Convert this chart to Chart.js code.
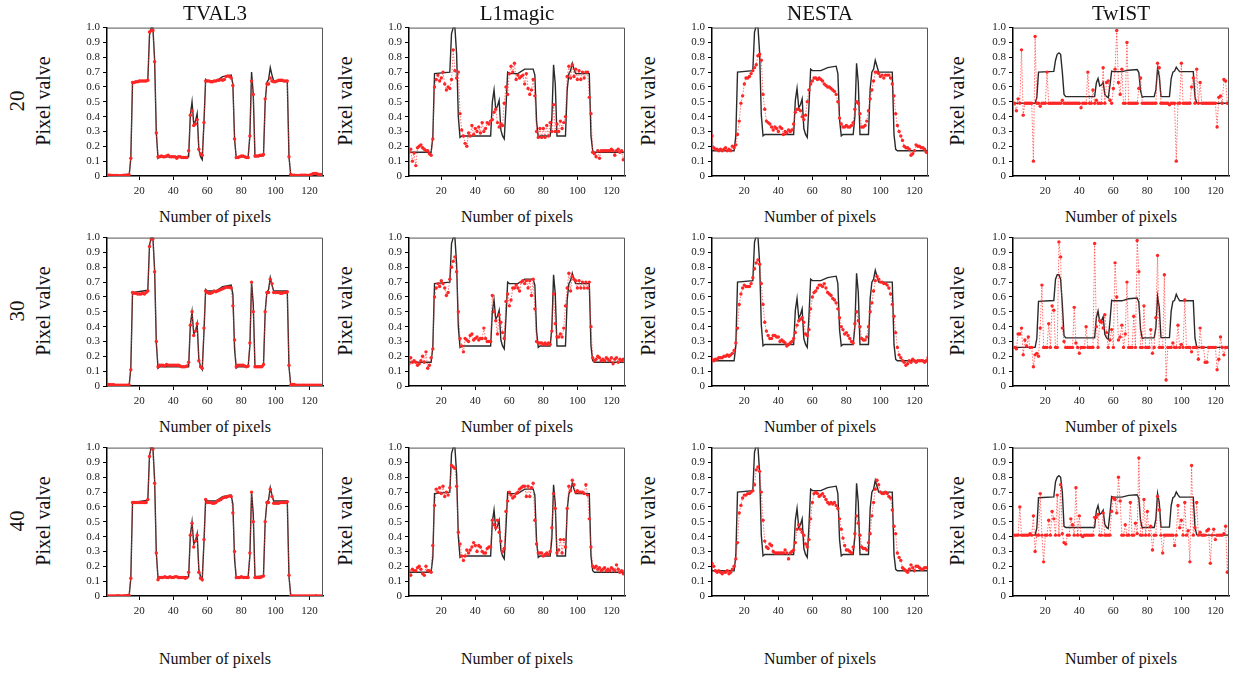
<!DOCTYPE html>
<html lang="en">
<head>
<meta charset="UTF-8" />
<title>Pixel value profiles</title>
<script src="https://cdn.jsdelivr.net/npm/chart.js"></script>
<style>
  body {
    margin: 0;
    background: #fff;
    width: 1233px;
    height: 674px;
    position: relative;
    overflow: hidden;
    font-family: 'Liberation Serif', 'DejaVu Serif', serif;
    color: #111;
  }
  canvas { position: absolute; }
  .lbl {
    position: absolute;
    white-space: nowrap;
    line-height: 1;
    transform: translate(-50%, -50%);
  }
  .rot { transform: translate(-50%, -50%) rotate(-90deg); }
  .title { font-size: 21px; }
  .ylab { font-size: 20px; }
  .xlab { font-size: 16px; }
  .row { font-size: 21px; }
</style>
</head>
<body>
<script>
  // panel titles, row labels and ticks
  const methods = ['TVAL3', 'L1magic', 'NESTA', 'TwIST'];
  const rowLabels = ['20', '30', '40'];
  const xTicks = [20, 40, 60, 80, 100, 120];
  const yTicks = [0, 0.1, 0.2, 0.3, 0.4, 0.5, 0.6, 0.7, 0.8, 0.9, 1];

  // original signal, [pixel, value] break points, one per panel scaling
  const truthTVAL3 = [[1,0],[14,0],[15,0.12],[16,0.63],[25,0.645],[26,0.95],[27,1.0],[28,1.0],[29,0.78],[30,0.29],[31,0.12],[32,0.13],[49,0.13],[50,0.41],[51,0.5],[52,0.35],[53,0.37],[54,0.42],[55,0.18],[56,0.13],[57,0.11],[58,0.36],[59,0.65],[60,0.64],[65,0.64],[69,0.67],[74,0.68],[75,0.62],[76,0.25],[77,0.12],[78,0.13],[84,0.13],[85,0.27],[86,0.7],[87,0.55],[88,0.13],[93,0.135],[94,0.5],[95,0.63],[96,0.65],[97,0.73],[98,0.68],[99,0.64],[107,0.64],[108,0.13],[109,0.01],[110,0],[128,0]];
  const truthL1magic = [[1,0.16],[14,0.16],[15,0.26],[16,0.69],[25,0.70],[26,0.96],[27,1.0],[28,1.0],[29,0.82],[30,0.40],[31,0.26],[32,0.27],[49,0.27],[50,0.50],[51,0.58],[52,0.45],[53,0.47],[54,0.51],[55,0.31],[56,0.27],[57,0.25],[58,0.46],[59,0.70],[60,0.69],[65,0.69],[69,0.72],[74,0.72],[75,0.68],[76,0.37],[77,0.26],[78,0.27],[84,0.27],[85,0.39],[86,0.75],[87,0.62],[88,0.27],[93,0.27],[94,0.58],[95,0.69],[96,0.71],[97,0.76],[98,0.72],[99,0.69],[107,0.69],[108,0.27],[109,0.17],[110,0.16],[128,0.16]];
  const truthNESTA = [[1,0.17],[14,0.17],[15,0.27],[16,0.70],[25,0.71],[26,0.97],[27,1.01],[28,1.01],[29,0.83],[30,0.41],[31,0.27],[32,0.28],[49,0.28],[50,0.51],[51,0.59],[52,0.46],[53,0.48],[54,0.52],[55,0.32],[56,0.28],[57,0.26],[58,0.47],[59,0.72],[60,0.71],[65,0.71],[69,0.73],[74,0.74],[75,0.69],[76,0.38],[77,0.27],[78,0.28],[84,0.28],[85,0.40],[86,0.76],[87,0.63],[88,0.28],[93,0.28],[94,0.59],[95,0.70],[96,0.72],[97,0.78],[98,0.74],[99,0.70],[107,0.70],[108,0.28],[109,0.18],[110,0.17],[128,0.17]];
  const truthTwIST20 = [[1,0.49],[14,0.49],[15,0.53],[16,0.70],[25,0.705],[26,0.78],[27,0.82],[28,0.83],[29,0.82],[30,0.70],[31,0.55],[32,0.535],[49,0.535],[50,0.627],[51,0.657],[52,0.607],[53,0.613],[54,0.63],[55,0.55],[56,0.535],[57,0.527],[58,0.61],[59,0.707],[60,0.703],[65,0.703],[69,0.713],[74,0.717],[75,0.697],[76,0.573],[77,0.53],[78,0.535],[84,0.535],[85,0.58],[86,0.723],[87,0.673],[88,0.535],[93,0.535],[94,0.657],[95,0.70],[96,0.707],[97,0.733],[98,0.717],[99,0.703],[107,0.703],[108,0.533],[109,0.493],[110,0.49],[128,0.49]];
  const truthTwIST30 = [[1,0.26],[14,0.26],[15,0.32],[16,0.57],[25,0.576],[26,0.72],[27,0.75],[28,0.75],[29,0.72],[30,0.55],[31,0.34],[32,0.324],[49,0.324],[50,0.46],[51,0.505],[52,0.43],[53,0.44],[54,0.466],[55,0.348],[56,0.324],[57,0.314],[58,0.436],[59,0.578],[60,0.574],[65,0.574],[69,0.588],[74,0.593],[75,0.564],[76,0.383],[77,0.32],[78,0.324],[84,0.324],[85,0.392],[86,0.603],[87,0.53],[88,0.326],[93,0.326],[94,0.505],[95,0.57],[96,0.578],[97,0.618],[98,0.593],[99,0.574],[107,0.574],[108,0.324],[109,0.265],[110,0.26],[128,0.26]];
  const truthTwIST40 = [[1,0.41],[14,0.41],[15,0.458],[16,0.662],[25,0.668],[26,0.77],[27,0.80],[28,0.81],[29,0.80],[30,0.70],[31,0.47],[32,0.462],[49,0.462],[50,0.574],[51,0.61],[52,0.55],[53,0.558],[54,0.578],[55,0.482],[56,0.462],[57,0.454],[58,0.554],[59,0.67],[60,0.666],[65,0.666],[69,0.678],[74,0.682],[75,0.658],[76,0.51],[77,0.458],[78,0.462],[84,0.462],[85,0.518],[86,0.69],[87,0.63],[88,0.464],[93,0.464],[94,0.61],[95,0.662],[96,0.67],[97,0.702],[98,0.682],[99,0.666],[107,0.666],[108,0.462],[109,0.414],[110,0.41],[128,0.41]];

  // reconstructions, one value per pixel 1..128
  const tval3_20 = [
    0.005,0.005,0.005,0.004,0.004,0.003,0.003,0.002,0.002,0.004,0.006,0.006,0.007,0.008,0.12,0.63,
    0.63,0.635,0.635,0.64,0.64,0.64,0.64,0.64,0.645,0.97,0.98,0.98,0.77,0.29,0.13,0.13,
    0.135,0.13,0.13,0.135,0.14,0.13,0.13,0.13,0.13,0.12,0.13,0.13,0.125,0.125,0.125,0.125,
    0.17,0.41,0.44,0.34,0.35,0.38,0.18,0.15,0.14,0.36,0.64,0.64,0.64,0.635,0.635,0.64,
    0.64,0.645,0.645,0.65,0.645,0.65,0.67,0.675,0.67,0.66,0.61,0.25,0.125,0.125,0.13,0.135,
    0.135,0.13,0.125,0.125,0.27,0.64,0.55,0.135,0.135,0.135,0.14,0.14,0.145,0.52,0.62,0.62,
    0.66,0.64,0.635,0.635,0.64,0.645,0.645,0.645,0.64,0.64,0.64,0.13,0.01,0.005,0.005,0.004,
    0.004,0.004,0.005,0.005,0.006,0.005,0.004,0.005,0.008,0.015,0.018,0.018,0.012,0.01,0.01,0.008];
  const tval3_30 = [
    0.01,0.01,0.008,0.008,0.008,0.006,0.006,0.005,0.005,0.005,0.005,0.005,0.006,0.008,0.11,0.63,
    0.625,0.625,0.62,0.62,0.62,0.625,0.62,0.63,0.64,0.94,0.99,0.99,0.77,0.30,0.13,0.14,
    0.14,0.14,0.135,0.145,0.14,0.14,0.14,0.14,0.14,0.14,0.14,0.135,0.13,0.13,0.13,0.135,
    0.16,0.41,0.50,0.34,0.37,0.42,0.17,0.13,0.12,0.39,0.64,0.63,0.625,0.625,0.63,0.64,
    0.635,0.64,0.645,0.65,0.655,0.66,0.665,0.665,0.665,0.66,0.54,0.31,0.13,0.14,0.14,0.14,
    0.14,0.135,0.13,0.135,0.29,0.70,0.50,0.13,0.13,0.13,0.13,0.13,0.145,0.50,0.63,0.63,
    0.72,0.69,0.63,0.63,0.63,0.63,0.625,0.625,0.63,0.63,0.635,0.14,0.005,0.01,0.01,0.005,
    0.005,0.005,0.005,0.005,0.005,0.005,0.005,0.005,0.005,0.005,0.005,0.005,0.005,0.005,0.005,0.005];
  const tval3_40 = [
    0,0,0,0,0,0,0.002,0.002,0,0,0.002,0.002,0.003,0.005,0.12,0.63,
    0.63,0.63,0.63,0.63,0.63,0.63,0.63,0.63,0.65,0.94,1.0,0.99,0.76,0.29,0.11,0.125,
    0.125,0.125,0.13,0.125,0.125,0.13,0.125,0.125,0.13,0.13,0.125,0.125,0.125,0.125,0.12,0.125,
    0.16,0.41,0.49,0.33,0.37,0.41,0.16,0.12,0.11,0.38,0.65,0.63,0.63,0.63,0.625,0.625,
    0.63,0.64,0.645,0.65,0.66,0.665,0.665,0.67,0.675,0.67,0.56,0.30,0.125,0.125,0.125,0.13,
    0.125,0.125,0.125,0.125,0.29,0.70,0.50,0.125,0.125,0.125,0.125,0.13,0.135,0.50,0.63,0.63,
    0.72,0.67,0.625,0.625,0.625,0.625,0.63,0.63,0.63,0.63,0.635,0.14,0,0,0,0,
    0,0,0,0,0,0,0,0,0,0,0,0.002,0,0,0,0];
  const l1magic_20 = [
    0.16,0.18,0.10,0.155,0.07,0.19,0.20,0.21,0.19,0.18,0.17,0.17,0.15,0.14,0.25,0.60,
    0.65,0.68,0.64,0.66,0.70,0.62,0.58,0.60,0.59,0.65,0.85,0.71,0.66,0.70,0.42,0.31,
    0.27,0.22,0.20,0.29,0.27,0.34,0.28,0.32,0.30,0.33,0.29,0.36,0.30,0.32,0.36,0.35,
    0.37,0.38,0.43,0.45,0.36,0.33,0.35,0.34,0.49,0.60,0.55,0.69,0.74,0.70,0.76,0.65,
    0.68,0.66,0.67,0.68,0.62,0.69,0.59,0.55,0.58,0.65,0.54,0.30,0.26,0.32,0.26,0.32,
    0.26,0.34,0.27,0.36,0.30,0.48,0.30,0.35,0.30,0.37,0.32,0.36,0.40,0.67,0.74,0.66,
    0.75,0.67,0.72,0.65,0.71,0.65,0.70,0.66,0.70,0.70,0.53,0.42,0.16,0.15,0.13,0.17,
    0.12,0.17,0.17,0.17,0.17,0.17,0.17,0.18,0.17,0.14,0.17,0.18,0.16,0.17,0.11,0.16];
  const l1magic_30 = [
    0.15,0.19,0.16,0.17,0.16,0.14,0.15,0.17,0.20,0.16,0.23,0.12,0.14,0.19,0.25,0.60,
    0.66,0.69,0.67,0.71,0.69,0.66,0.61,0.63,0.72,0.80,0.84,0.87,0.77,0.50,0.32,0.27,
    0.23,0.32,0.31,0.30,0.34,0.35,0.31,0.32,0.33,0.31,0.32,0.32,0.39,0.32,0.30,0.30,
    0.30,0.61,0.50,0.44,0.35,0.48,0.43,0.36,0.32,0.57,0.62,0.54,0.58,0.66,0.66,0.68,
    0.66,0.64,0.70,0.71,0.69,0.71,0.66,0.71,0.61,0.72,0.52,0.30,0.29,0.29,0.29,0.28,
    0.29,0.28,0.29,0.28,0.37,0.62,0.42,0.33,0.33,0.35,0.33,0.39,0.54,0.66,0.76,0.64,
    0.74,0.72,0.71,0.66,0.71,0.66,0.70,0.66,0.70,0.66,0.70,0.40,0.19,0.17,0.18,0.20,
    0.19,0.17,0.18,0.17,0.19,0.18,0.17,0.19,0.15,0.18,0.19,0.16,0.18,0.17,0.18,0.16];
  const l1magic_40 = [
    0.17,0.14,0.18,0.17,0.17,0.19,0.20,0.18,0.15,0.14,0.20,0.17,0.17,0.16,0.34,0.61,
    0.72,0.70,0.73,0.69,0.74,0.67,0.70,0.68,0.73,0.88,0.87,0.86,0.74,0.43,0.35,0.27,
    0.24,0.27,0.31,0.29,0.31,0.33,0.36,0.34,0.30,0.34,0.33,0.30,0.29,0.29,0.32,0.33,
    0.33,0.51,0.48,0.46,0.51,0.43,0.37,0.30,0.32,0.57,0.64,0.70,0.68,0.66,0.67,0.69,
    0.70,0.72,0.73,0.74,0.74,0.67,0.74,0.67,0.73,0.76,0.51,0.35,0.29,0.29,0.29,0.27,
    0.28,0.29,0.28,0.30,0.46,0.69,0.59,0.29,0.31,0.38,0.29,0.38,0.33,0.59,0.74,0.71,
    0.78,0.75,0.70,0.71,0.70,0.70,0.70,0.69,0.75,0.68,0.52,0.33,0.20,0.19,0.20,0.18,
    0.19,0.17,0.18,0.19,0.17,0.18,0.17,0.19,0.18,0.17,0.21,0.18,0.16,0.17,0.15,0.17];
  const nesta_20 = [
    0.27,0.19,0.18,0.18,0.17,0.18,0.17,0.18,0.19,0.17,0.18,0.17,0.20,0.19,0.21,0.28,
    0.37,0.49,0.54,0.62,0.66,0.66,0.67,0.69,0.71,0.73,0.75,0.81,0.82,0.78,0.55,0.45,
    0.37,0.36,0.35,0.33,0.31,0.33,0.32,0.30,0.33,0.32,0.28,0.30,0.29,0.31,0.30,0.31,
    0.35,0.43,0.45,0.45,0.44,0.40,0.38,0.41,0.50,0.58,0.62,0.64,0.66,0.66,0.65,0.66,
    0.65,0.64,0.62,0.61,0.60,0.60,0.59,0.58,0.57,0.55,0.50,0.39,0.35,0.33,0.33,0.34,
    0.33,0.33,0.34,0.36,0.45,0.50,0.49,0.42,0.33,0.33,0.34,0.37,0.44,0.52,0.58,0.64,
    0.70,0.70,0.69,0.67,0.68,0.66,0.68,0.68,0.68,0.66,0.62,0.54,0.42,0.34,0.30,0.27,
    0.24,0.20,0.19,0.19,0.18,0.14,0.15,0.17,0.21,0.20,0.20,0.19,0.19,0.18,0.16,0.16];
  const nesta_30 = [
    0.18,0.17,0.18,0.18,0.19,0.19,0.19,0.20,0.20,0.21,0.20,0.21,0.22,0.24,0.29,0.39,
    0.55,0.62,0.66,0.68,0.67,0.67,0.67,0.69,0.73,0.79,0.83,0.85,0.82,0.69,0.55,0.43,
    0.37,0.34,0.32,0.32,0.34,0.34,0.33,0.33,0.30,0.31,0.30,0.29,0.27,0.28,0.29,0.30,
    0.32,0.36,0.41,0.44,0.45,0.46,0.43,0.35,0.34,0.38,0.52,0.60,0.63,0.64,0.66,0.68,
    0.68,0.67,0.69,0.66,0.63,0.62,0.61,0.59,0.58,0.56,0.52,0.46,0.40,0.38,0.35,0.36,
    0.34,0.32,0.30,0.29,0.42,0.50,0.44,0.40,0.32,0.31,0.31,0.33,0.40,0.50,0.56,0.64,
    0.71,0.74,0.72,0.70,0.70,0.69,0.69,0.68,0.66,0.62,0.55,0.47,0.36,0.26,0.21,0.19,
    0.17,0.16,0.14,0.15,0.17,0.16,0.18,0.17,0.16,0.17,0.17,0.17,0.17,0.16,0.17,0.19];
  const nesta_40 = [
    0.22,0.20,0.17,0.16,0.17,0.16,0.15,0.16,0.16,0.17,0.15,0.16,0.18,0.20,0.25,0.36,
    0.56,0.61,0.66,0.68,0.68,0.69,0.69,0.70,0.71,0.75,0.85,0.87,0.84,0.70,0.51,0.37,
    0.33,0.32,0.35,0.34,0.30,0.29,0.29,0.29,0.29,0.29,0.29,0.31,0.29,0.25,0.29,0.30,
    0.31,0.36,0.45,0.48,0.45,0.43,0.41,0.35,0.33,0.38,0.52,0.63,0.69,0.70,0.69,0.67,
    0.68,0.69,0.67,0.65,0.63,0.62,0.63,0.62,0.63,0.61,0.59,0.52,0.45,0.39,0.34,0.31,
    0.31,0.30,0.29,0.33,0.42,0.54,0.49,0.41,0.33,0.32,0.32,0.31,0.36,0.42,0.54,0.63,
    0.72,0.78,0.75,0.70,0.69,0.69,0.70,0.69,0.67,0.66,0.58,0.47,0.42,0.29,0.26,0.24,
    0.19,0.18,0.17,0.16,0.18,0.21,0.19,0.17,0.20,0.20,0.19,0.18,0.18,0.19,0.19,0.19];
  const twist_20 = [
    0.49,0.49,0.44,0.52,0.49,0.85,0.41,0.49,0.49,0.49,0.49,0.49,0.10,0.94,0.49,0.49,
    0.47,0.49,0.49,0.49,0.70,0.49,0.49,0.49,0.49,0.49,0.49,0.49,0.49,0.51,0.49,0.49,
    0.49,0.49,0.49,0.49,0.49,0.49,0.49,0.49,0.46,0.49,0.49,0.49,0.70,0.49,0.49,0.58,
    0.49,0.51,0.49,0.49,0.49,0.73,0.49,0.63,0.64,0.51,0.49,0.59,0.72,0.98,0.63,0.55,
    0.72,0.49,0.49,0.90,0.49,0.49,0.49,0.49,0.49,0.49,0.59,0.66,0.49,0.49,0.49,0.49,
    0.49,0.49,0.49,0.49,0.49,0.76,0.73,0.49,0.49,0.49,0.49,0.49,0.48,0.49,0.49,0.49,
    0.10,0.49,0.49,0.76,0.49,0.49,0.49,0.49,0.49,0.60,0.66,0.49,0.72,0.49,0.63,0.49,
    0.49,0.49,0.49,0.49,0.49,0.49,0.49,0.49,0.33,0.53,0.54,0.49,0.65,0.64,0.49,0.49];
  const twist_30 = [
    0.26,0.26,0.25,0.35,0.35,0.39,0.21,0.31,0.27,0.33,0.26,0.26,0.13,0.21,0.22,0.20,
    0.39,0.68,0.26,0.26,0.26,0.42,0.26,0.54,0.51,0.26,0.26,0.97,0.87,0.39,0.30,0.26,
    0.26,0.26,0.26,0.26,0.53,0.29,0.26,0.22,0.26,0.26,0.26,0.40,0.26,0.26,0.26,0.26,
    0.96,0.40,0.26,0.44,0.43,0.39,0.48,0.36,0.26,0.31,0.38,0.26,0.83,0.60,0.31,0.33,
    0.41,0.26,0.35,0.70,0.26,0.26,0.26,0.47,0.26,0.98,0.77,0.26,0.26,0.54,0.26,0.26,
    0.26,0.38,0.22,0.26,0.46,0.88,0.26,0.26,0.26,0.75,0.04,0.26,0.26,0.26,0.29,0.26,
    0.26,0.41,0.26,0.28,0.26,0.58,0.26,0.26,0.26,0.23,0.26,0.26,0.26,0.18,0.39,0.26,
    0.26,0.16,0.16,0.26,0.26,0.26,0.26,0.26,0.11,0.18,0.33,0.26,0.21,0.26,0.26,0.26];
  const twist_40 = [
    0.41,0.41,0.41,0.41,0.60,0.41,0.41,0.41,0.41,0.41,0.42,0.41,0.54,0.30,0.41,0.41,
    0.69,0.41,0.23,0.41,0.41,0.51,0.41,0.57,0.52,0.41,0.68,0.41,0.75,0.42,0.36,0.35,
    0.41,0.41,0.52,0.48,0.41,0.73,0.41,0.54,0.41,0.40,0.41,0.41,0.41,0.41,0.41,0.41,
    0.53,0.53,0.55,0.41,0.41,0.56,0.41,0.41,0.41,0.41,0.57,0.66,0.65,0.56,0.80,0.64,
    0.41,0.41,0.48,0.41,0.41,0.63,0.41,0.41,0.49,0.42,0.93,0.41,0.41,0.65,0.41,0.57,
    0.41,0.47,0.31,0.41,0.41,0.67,0.58,0.41,0.29,0.41,0.41,0.41,0.41,0.41,0.41,0.34,
    0.41,0.61,0.46,0.51,0.41,0.63,0.41,0.44,0.23,0.88,0.41,0.46,0.63,0.41,0.43,0.41,
    0.41,0.41,0.44,0.45,0.22,0.41,0.45,0.38,0.41,0.41,0.41,0.41,0.42,0.47,0.16,0.41];

  // grid of panels: rows = measurement ratio, columns = method
  const panels = [
    [[tval3_20, truthTVAL3], [l1magic_20, truthL1magic], [nesta_20, truthNESTA], [twist_20, truthTwIST20]],
    [[tval3_30, truthTVAL3], [l1magic_30, truthL1magic], [nesta_30, truthNESTA], [twist_30, truthTwIST30]],
    [[tval3_40, truthTVAL3], [l1magic_40, truthL1magic], [nesta_40, truthNESTA], [twist_40, truthTwIST40]]
  ];

  const plotLeft = [107, 409, 712, 1013];
  const plotTop = [26, 236, 446];
  const plotW = 216, plotH = 150;
  const yLabOffset = [64, 64, 64, 56];
  const xLabY = [217, 427, 659];
  const padL = 45, padR = 8, padT = 8, padB = 30;
  const fontFamily = "'Liberation Serif', 'DejaVu Serif', serif";

  function addLabel(text, cls, x, y) {
    const d = document.createElement('div');
    d.className = 'lbl ' + cls;
    d.textContent = text;
    d.style.left = x + 'px';
    d.style.top = y + 'px';
    document.body.appendChild(d);
  }

  const frame = {
    id: 'frame',
    afterDatasetsDraw(chart) {
      const a = chart.chartArea;
      const ctx = chart.ctx;
      ctx.save();
      ctx.strokeStyle = '#555';
      ctx.lineWidth = 1;
      ctx.beginPath();
      ctx.moveTo(a.left, a.top + 0.5);
      ctx.lineTo(a.right - 0.5, a.top + 0.5);
      ctx.lineTo(a.right - 0.5, a.bottom);
      ctx.stroke();
      ctx.restore();
    }
  };

  function drawPanel(r, c) {
    const [rec, truth] = panels[r][c];
    const cv = document.createElement('canvas');
    const w = plotW + padL + padR, h = plotH + padT + padB;
    cv.width = w; cv.height = h;
    cv.style.width = w + 'px'; cv.style.height = h + 'px';
    cv.style.left = (plotLeft[c] - padL) + 'px';
    cv.style.top = (plotTop[r] - padT) + 'px';
    document.body.appendChild(cv);

    const tickFont = { family: fontFamily, size: 11 };
    new Chart(cv.getContext('2d'), {
      type: 'line',
      data: {
        datasets: [
          {
            data: rec.map((v, i) => ({ x: i + 1, y: v })),
            borderColor: 'rgba(255, 50, 50, 0.7)',
            borderWidth: 1,
            borderDash: [1.5, 1.5],
            pointRadius: 1.7,
            pointBackgroundColor: '#ff2626',
            pointBorderWidth: 0,
            order: 0
          },
          {
            data: truth.map(p => ({ x: p[0], y: p[1] })),
            borderColor: '#2a2a2a',
            borderWidth: 1.4,
            pointRadius: 0,
            order: 1
          }
        ]
      },
      options: {
        responsive: false,
        animation: false,
        layout: { padding: { left: 0, right: padR, top: padT, bottom: 0 } },
        plugins: { legend: { display: false }, tooltip: { enabled: false } },
        scales: {
          x: {
            type: 'linear', min: 1, max: 128,
            afterBuildTicks: s => { s.ticks = xTicks.map(v => ({ value: v })); },
            afterFit: s => { s.height = padB; },
            grid: { display: true, drawOnChartArea: false, drawTicks: true, tickLength: 4, color: '#000' },
            border: { display: true, color: '#000', width: 1.5 },
            ticks: { font: tickFont, color: '#222', padding: 5, maxRotation: 0, autoSkip: false }
          },
          y: {
            type: 'linear', min: 0, max: 1,
            afterBuildTicks: s => { s.ticks = yTicks.map(v => ({ value: v })); },
            afterFit: s => { s.width = padL; },
            grid: { display: true, drawOnChartArea: false, drawTicks: true, tickLength: 4, color: '#000' },
            border: { display: true, color: '#000', width: 1.5 },
            ticks: { font: tickFont, color: '#222', padding: 3, autoSkip: false }
          }
        }
      },
      plugins: [frame]
    });

    const cx = plotLeft[c] + plotW / 2;
    const cy = plotTop[r] + plotH / 2;
    if (r === 0) addLabel(methods[c], 'title', cx, 13);
    addLabel('Pixel valve', 'ylab rot', plotLeft[c] - yLabOffset[c], cy);
    if (c === 0) addLabel(rowLabels[r], 'row rot', 17, cy);
    addLabel('Number of pixels', 'xlab', cx, xLabY[r]);
  }

  for (let r = 0; r < 3; r++) {
    for (let c = 0; c < 4; c++) drawPanel(r, c);
  }
</script>
</body>
</html>
